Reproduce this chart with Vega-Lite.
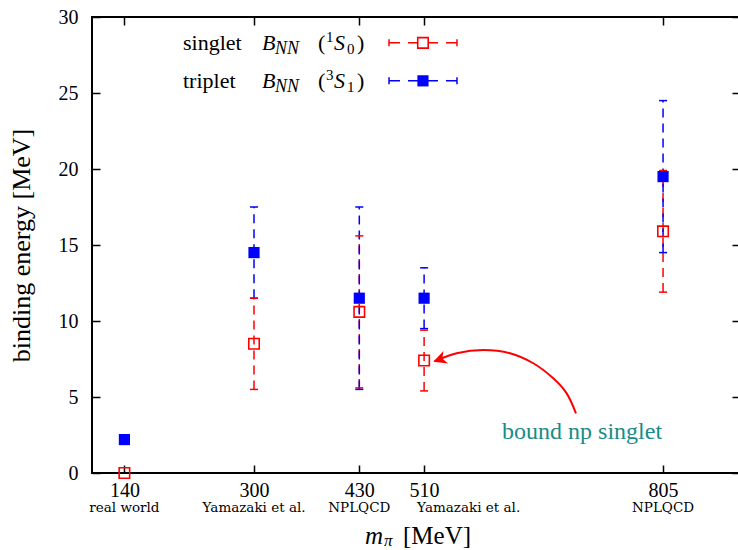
{
  "$schema": "https://vega.github.io/schema/vega-lite/v6.json",
  "width": 648,
  "height": 456,
  "autosize": {"type": "none"},
  "padding": {"left": 92, "top": 17, "right": 0, "bottom": 77},
  "background": "white",
  "config": {
    "view": {"stroke": "#000000", "strokeWidth": 2},
    "font": "Liberation Serif",
    "text": {"font": "Liberation Serif", "color": "#000000"}
  },
  "datasets": {
    "bind": [
      {"mpi": 140, "state": "singlet", "E": 0.0, "lo": null, "hi": null},
      {"mpi": 140, "state": "triplet", "E": 2.2, "lo": null, "hi": null},
      {"mpi": 300, "state": "singlet", "E": 8.5, "lo": 5.5, "hi": 11.5},
      {"mpi": 300, "state": "triplet", "E": 14.5, "lo": 11.5, "hi": 17.5},
      {"mpi": 430, "state": "singlet", "E": 10.6, "lo": 5.6, "hi": 15.6},
      {"mpi": 430, "state": "triplet", "E": 11.5, "lo": 5.5, "hi": 17.5},
      {"mpi": 510, "state": "singlet", "E": 7.4, "lo": 5.4, "hi": 9.4},
      {"mpi": 510, "state": "triplet", "E": 11.5, "lo": 9.5, "hi": 13.5},
      {"mpi": 805, "state": "singlet", "E": 15.9, "lo": 11.9, "hi": 19.9},
      {"mpi": 805, "state": "triplet", "E": 19.5, "lo": 14.5, "hi": 24.5}
    ],
    "sub": [
      {"mpi": 140, "sub": "real world"},
      {"mpi": 300, "sub": "Yamazaki et al."},
      {"mpi": 430, "sub": "NPLQCD"},
      {"mpi": 510, "sub": "Yamazaki et al."},
      {"mpi": 805, "sub": "NPLQCD"}
    ],
    "arrow": [
      {"i": 0, "ax": 697.5, "ay": 3.93},
      {"i": 1, "ax": 686.0, "ay": 5.24},
      {"i": 2, "ax": 669.5, "ay": 6.23},
      {"i": 3, "ax": 644.8, "ay": 7.22},
      {"i": 4, "ax": 616.0, "ay": 7.88},
      {"i": 5, "ax": 583.1, "ay": 8.09},
      {"i": 6, "ax": 550.2, "ay": 7.88},
      {"i": 7, "ax": 523.0, "ay": 7.35}
    ]
  },
  "resolve": {"axis": {"x": "independent", "y": "independent"}},
  "layer": [
    {
      "data": {"name": "bind"},
      "transform": [{"filter": "datum.lo != null"}],
      "mark": {"type": "rule", "strokeDash": [9, 6], "strokeWidth": 1.5},
      "encoding": {
        "x": {
          "field": "mpi", "type": "quantitative",
          "scale": {"domain": [100, 900], "nice": false, "zero": false},
          "axis": {
            "orient": "bottom", "values": [140, 300, 430, 510, 805],
            "tickSize": -8, "tickWidth": 1.5, "tickColor": "#000000",
            "domain": false, "grid": false, "title": null,
            "labelFont": "Liberation Serif", "labelFontSize": 20, "labelColor": "#000000",
            "labelPadding": 15, "labelFlush": false
          }
        },
        "y": {
          "field": "lo", "type": "quantitative",
          "scale": {"domain": [0, 30], "nice": false, "zero": false},
          "axis": {
            "orient": "left", "values": [0, 5, 10, 15, 20, 25, 30],
            "tickSize": -8, "tickWidth": 1.5, "tickColor": "#000000",
            "domain": false, "grid": false,
            "labelFont": "Liberation Serif", "labelFontSize": 20, "labelColor": "#000000",
            "labelPadding": 22, "labelFlush": false,
            "title": "binding energy [MeV]",
            "titleFont": "Liberation Serif", "titleFontSize": 26, "titleFontWeight": "normal",
            "titleColor": "#000000", "titlePadding": 24
          }
        },
        "y2": {"field": "hi"},
        "color": {
          "field": "state", "type": "nominal",
          "scale": {"domain": ["singlet", "triplet"], "range": ["#ff0000", "#0000ff"]},
          "legend": null
        }
      }
    },
    {
      "data": {"name": "bind"},
      "transform": [{"filter": "datum.lo != null"}],
      "mark": {"type": "tick", "orient": "horizontal", "size": 8, "thickness": 1.5, "opacity": 1},
      "encoding": {
        "x": {
          "field": "mpi", "type": "quantitative",
          "axis": {
            "orient": "top", "values": [140, 300, 430, 510, 805],
            "tickSize": -8, "tickWidth": 1.5, "tickColor": "#000000",
            "domain": false, "grid": false, "labels": false, "title": null
          }
        },
        "y": {
          "field": "lo", "type": "quantitative",
          "axis": {
            "orient": "right", "values": [0, 5, 10, 15, 20, 25, 30],
            "tickSize": -8, "tickWidth": 1.5, "tickColor": "#000000",
            "domain": false, "grid": false, "labels": false, "title": null
          }
        },
        "color": {"field": "state", "type": "nominal", "legend": null}
      }
    },
    {
      "data": {"name": "bind"},
      "transform": [{"filter": "datum.hi != null"}],
      "mark": {"type": "tick", "orient": "horizontal", "size": 8, "thickness": 1.5, "opacity": 1},
      "encoding": {
        "x": {"field": "mpi", "type": "quantitative", "axis": null},
        "y": {"field": "hi", "type": "quantitative", "axis": null},
        "color": {"field": "state", "type": "nominal", "legend": null}
      }
    },
    {
      "data": {"name": "bind"},
      "transform": [{"filter": "datum.state == 'singlet'"}],
      "mark": {"type": "point", "shape": "square", "size": 110, "filled": false, "strokeWidth": 1.6, "opacity": 1},
      "encoding": {
        "x": {"field": "mpi", "type": "quantitative", "axis": null},
        "y": {"field": "E", "type": "quantitative", "axis": null},
        "color": {"field": "state", "type": "nominal", "legend": null}
      }
    },
    {
      "data": {"name": "bind"},
      "transform": [{"filter": "datum.state == 'triplet'"}],
      "mark": {"type": "point", "shape": "square", "size": 125, "filled": true, "opacity": 1},
      "encoding": {
        "x": {"field": "mpi", "type": "quantitative", "axis": null},
        "y": {"field": "E", "type": "quantitative", "axis": null},
        "color": {"field": "state", "type": "nominal", "legend": null}
      }
    },
    {
      "data": {"name": "sub"},
      "transform": [{"filter": "datum.mpi != 510"}],
      "mark": {"type": "text", "font": "DejaVu Serif", "fontSize": 13.5, "baseline": "middle", "align": "center", "dy": 35, "color": "#000000"},
      "encoding": {
        "x": {"field": "mpi", "type": "quantitative", "axis": null},
        "y": {"datum": 0, "type": "quantitative", "axis": null},
        "text": {"field": "sub"}
      }
    },
    {
      "data": {"name": "sub"},
      "transform": [{"filter": "datum.mpi == 510"}],
      "mark": {"type": "text", "font": "DejaVu Serif", "fontSize": 13.5, "baseline": "middle", "align": "left", "dx": -7, "dy": 35, "color": "#000000"},
      "encoding": {
        "x": {"field": "mpi", "type": "quantitative", "axis": null},
        "y": {"datum": 0, "type": "quantitative", "axis": null},
        "text": {"field": "sub"}
      }
    },
    {
      "data": {"values": [{"m": "m", "pi": "π", "unit": "[MeV]"}]},
      "encoding": {
        "x": {"datum": 500, "type": "quantitative", "axis": null},
        "y": {"datum": 0, "type": "quantitative", "axis": null}
      },
      "layer": [
        {"mark": {"type": "text", "align": "left", "baseline": "middle", "fontSize": 25, "fontStyle": "italic", "dx": -51, "dy": 63},
         "encoding": {"text": {"field": "m"}}},
        {"mark": {"type": "text", "align": "left", "baseline": "middle", "fontSize": 17, "fontStyle": "italic", "dx": -32, "dy": 68},
         "encoding": {"text": {"field": "pi"}}},
        {"mark": {"type": "text", "align": "left", "baseline": "middle", "fontSize": 25, "dx": -13, "dy": 63},
         "encoding": {"text": {"field": "unit"}}}
      ]
    },
    {
      "data": {"name": "arrow"},
      "mark": {"type": "line", "interpolate": "cardinal", "color": "#ff0000", "strokeWidth": 2},
      "encoding": {
        "x": {"field": "ax", "type": "quantitative", "axis": null},
        "y": {"field": "ay", "type": "quantitative", "axis": null},
        "order": {"field": "i", "type": "ordinal"}
      }
    },
    {
      "data": {"values": [{"tipx": 521.4, "tipy": 7.32}]},
      "mark": {"type": "point", "shape": "M0,0L1,-0.5L0.72,0L1,0.5Z", "size": 700, "filled": true, "color": "#ff0000", "opacity": 1, "angle": 340},
      "encoding": {
        "x": {"field": "tipx", "type": "quantitative", "axis": null},
        "y": {"field": "tipy", "type": "quantitative", "axis": null}
      }
    },
    {
      "data": {"values": [{"note": "bound np singlet", "nx": 705, "ny": 2.7}]},
      "mark": {"type": "text", "align": "center", "baseline": "middle", "fontSize": 24, "color": "#178c88"},
      "encoding": {
        "x": {"field": "nx", "type": "quantitative", "axis": null},
        "y": {"field": "ny", "type": "quantitative", "axis": null},
        "text": {"field": "note"}
      }
    },
    {
      "data": {"values": [{"word": "singlet", "B": "B", "NN": "NN", "lp": "(", "sup": "1", "S": "S", "subs": "0", "rp": ")"}]},
      "encoding": {
        "x": {"datum": 212.3, "type": "quantitative", "axis": null},
        "y": {"datum": 28.3, "type": "quantitative", "axis": null}
      },
      "layer": [
        {"mark": {"type": "text", "align": "left", "baseline": "middle", "fontSize": 22}, "encoding": {"text": {"field": "word"}}},
        {"mark": {"type": "text", "align": "left", "baseline": "middle", "fontSize": 22, "fontStyle": "italic", "dx": 79}, "encoding": {"text": {"field": "B"}}},
        {"mark": {"type": "text", "align": "left", "baseline": "middle", "fontSize": 18, "fontStyle": "italic", "dx": 92, "dy": 6}, "encoding": {"text": {"field": "NN"}}},
        {"mark": {"type": "text", "align": "left", "baseline": "middle", "fontSize": 22, "dx": 135}, "encoding": {"text": {"field": "lp"}}},
        {"mark": {"type": "text", "align": "left", "baseline": "middle", "fontSize": 15, "dx": 143, "dy": -6}, "encoding": {"text": {"field": "sup"}}},
        {"mark": {"type": "text", "align": "left", "baseline": "middle", "fontSize": 22, "fontStyle": "italic", "dx": 151}, "encoding": {"text": {"field": "S"}}},
        {"mark": {"type": "text", "align": "left", "baseline": "middle", "fontSize": 15, "dx": 164, "dy": 6}, "encoding": {"text": {"field": "subs"}}},
        {"mark": {"type": "text", "align": "left", "baseline": "middle", "fontSize": 22, "dx": 174}, "encoding": {"text": {"field": "rp"}}},
        {"mark": {"type": "rule", "color": "#ff0000", "strokeWidth": 1.5, "strokeDash": [11, 8]},
         "encoding": {"x": {"datum": 466.7, "type": "quantitative", "axis": null}, "x2": {"datum": 550.6}}},
        {"mark": {"type": "tick", "orient": "vertical", "size": 7, "thickness": 1.5, "color": "#ff0000", "opacity": 1},
         "encoding": {"x": {"datum": 466.7, "type": "quantitative", "axis": null}}},
        {"mark": {"type": "tick", "orient": "vertical", "size": 7, "thickness": 1.5, "color": "#ff0000", "opacity": 1},
         "encoding": {"x": {"datum": 550.6, "type": "quantitative", "axis": null}}},
        {"mark": {"type": "point", "shape": "square", "size": 110, "filled": true, "fill": "white", "stroke": "#ff0000", "strokeWidth": 1.6, "opacity": 1},
         "encoding": {"x": {"datum": 508.6, "type": "quantitative", "axis": null}}}
      ]
    },
    {
      "data": {"values": [{"word": "triplet", "B": "B", "NN": "NN", "lp": "(", "sup": "3", "S": "S", "subs": "1", "rp": ")"}]},
      "encoding": {
        "x": {"datum": 212.3, "type": "quantitative", "axis": null},
        "y": {"datum": 25.8, "type": "quantitative", "axis": null}
      },
      "layer": [
        {"mark": {"type": "text", "align": "left", "baseline": "middle", "fontSize": 22}, "encoding": {"text": {"field": "word"}}},
        {"mark": {"type": "text", "align": "left", "baseline": "middle", "fontSize": 22, "fontStyle": "italic", "dx": 79}, "encoding": {"text": {"field": "B"}}},
        {"mark": {"type": "text", "align": "left", "baseline": "middle", "fontSize": 18, "fontStyle": "italic", "dx": 92, "dy": 6}, "encoding": {"text": {"field": "NN"}}},
        {"mark": {"type": "text", "align": "left", "baseline": "middle", "fontSize": 22, "dx": 135}, "encoding": {"text": {"field": "lp"}}},
        {"mark": {"type": "text", "align": "left", "baseline": "middle", "fontSize": 15, "dx": 143, "dy": -6}, "encoding": {"text": {"field": "sup"}}},
        {"mark": {"type": "text", "align": "left", "baseline": "middle", "fontSize": 22, "fontStyle": "italic", "dx": 151}, "encoding": {"text": {"field": "S"}}},
        {"mark": {"type": "text", "align": "left", "baseline": "middle", "fontSize": 15, "dx": 164, "dy": 6}, "encoding": {"text": {"field": "subs"}}},
        {"mark": {"type": "text", "align": "left", "baseline": "middle", "fontSize": 22, "dx": 174}, "encoding": {"text": {"field": "rp"}}},
        {"mark": {"type": "rule", "color": "#0000ff", "strokeWidth": 1.5, "strokeDash": [11, 8]},
         "encoding": {"x": {"datum": 466.7, "type": "quantitative", "axis": null}, "x2": {"datum": 550.6}}},
        {"mark": {"type": "tick", "orient": "vertical", "size": 7, "thickness": 1.5, "color": "#0000ff", "opacity": 1},
         "encoding": {"x": {"datum": 466.7, "type": "quantitative", "axis": null}}},
        {"mark": {"type": "tick", "orient": "vertical", "size": 7, "thickness": 1.5, "color": "#0000ff", "opacity": 1},
         "encoding": {"x": {"datum": 550.6, "type": "quantitative", "axis": null}}},
        {"mark": {"type": "point", "shape": "square", "size": 125, "filled": true, "color": "#0000ff", "opacity": 1},
         "encoding": {"x": {"datum": 508.6, "type": "quantitative", "axis": null}}}
      ]
    }
  ]
}
